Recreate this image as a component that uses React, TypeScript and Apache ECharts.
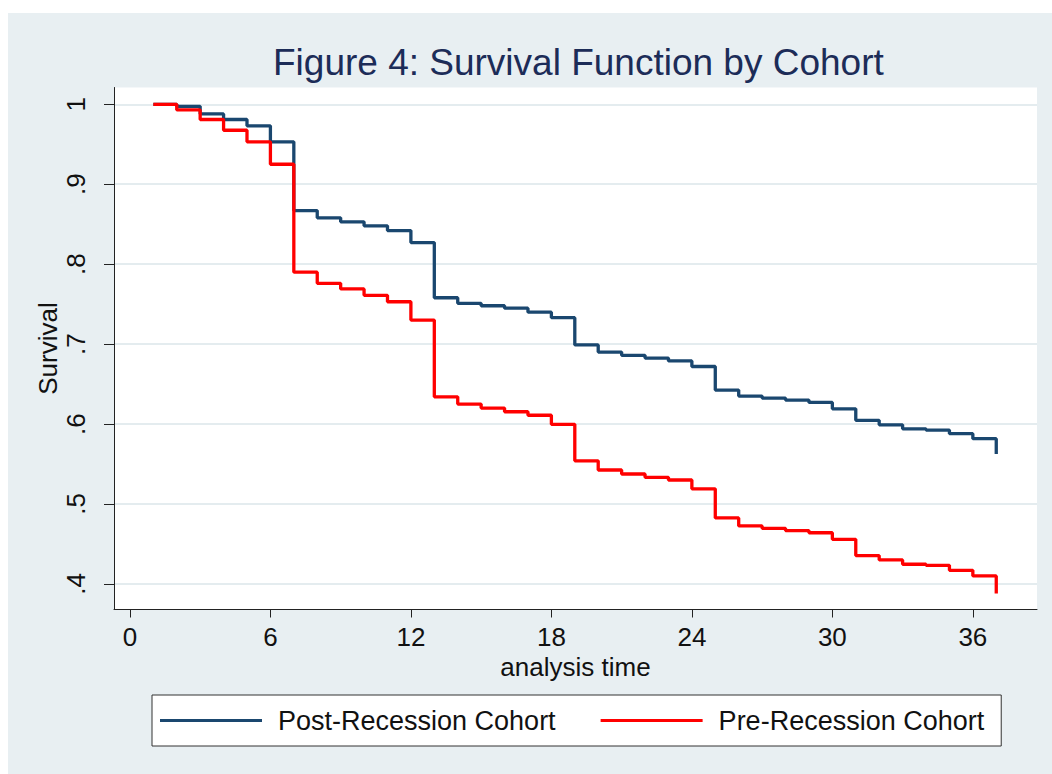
import React, { useEffect, useRef } from "react";
import * as echarts from "echarts";

const FONT = "'Liberation Sans', Arial, Helvetica, sans-serif";

const TITLE = "Figure 4: Survival Function by Cohort";
const X_NAME = "analysis time";
const Y_NAME = "Survival";

const times = [
  1, 2, 3, 4, 5, 6, 7, 8, 9, 10, 11, 12, 13, 14, 15, 16, 17, 18, 19, 20, 21,
  22, 23, 24, 25, 26, 27, 28, 29, 30, 31, 32, 33, 34, 35, 36, 37,
];

const postRecession = [
  1.0, 0.9975, 0.988, 0.981, 0.973, 0.953, 0.867, 0.858, 0.853, 0.848, 0.842,
  0.827, 0.758, 0.751, 0.748, 0.745, 0.74, 0.733, 0.699, 0.69, 0.686, 0.6825,
  0.679, 0.672, 0.6425, 0.635, 0.6325, 0.63, 0.627, 0.619, 0.6046, 0.599,
  0.594, 0.5925, 0.588, 0.5817, 0.5625,
];

const preRecession = [
  1.0, 0.993, 0.981, 0.9675, 0.953, 0.925, 0.79, 0.776, 0.769, 0.761, 0.753,
  0.73, 0.634, 0.625, 0.62, 0.6154, 0.611, 0.5996, 0.554, 0.5425, 0.5375,
  0.5333, 0.53, 0.519, 0.4825, 0.4725, 0.4696, 0.4667, 0.464, 0.4558, 0.4354,
  0.43, 0.4246, 0.4233, 0.417, 0.41, 0.388,
];

const xTicks = [0, 6, 12, 18, 24, 30, 36];
const yTicks = [0.4, 0.5, 0.6, 0.7, 0.8, 0.9, 1];

const seriesNames = ["Post-Recession Cohort", "Pre-Recession Cohort"];
const seriesColors = ["#1a476f", "#ff0000"];

export default function App() {
  const ref = useRef<HTMLDivElement>(null);

  useEffect(() => {
    if (!ref.current) return;
    const chart = echarts.init(ref.current, null, { renderer: "svg" });
    const axisColor = "#222";
    const textColor = "#111";
    chart.setOption({
      animation: false,
      backgroundColor: "transparent",
      title: {
        text: TITLE,
        left: 268,
        top: 39,
        textStyle: {
          fontFamily: FONT,
          fontSize: 37,
          fontWeight: "normal",
          color: "#1c2c58",
        },
      },
      grid: {
        left: 114,
        right: 15,
        top: 87.5,
        bottom: 164.5,
        show: true,
        backgroundColor: "#ffffff",
        borderWidth: 0,
        containLabel: false,
      },
      legend: {
        left: 152,
        top: 695,
        orient: "horizontal",
        itemWidth: 102,
        itemHeight: 3,
        itemGap: 45,
        padding: [12, 17, 12, 8],
        backgroundColor: "#ffffff",
        borderColor: "#333",
        borderWidth: 1,
        borderRadius: 0,
        selectedMode: false,
        textStyle: {
          fontFamily: FONT,
          fontSize: 27,
          color: textColor,
          padding: [0, 0, 0, 11],
        },
        data: seriesNames.map((n) => ({ name: n, icon: "rect" })),
      },
      xAxis: {
        type: "value",
        min: -0.68,
        max: 38.74,
        axisLine: { show: true, onZero: false, lineStyle: { color: axisColor, width: 1 } },
        axisTick: {
          show: true,
          length: 8,
          customValues: xTicks,
          lineStyle: { color: axisColor },
        },
        axisLabel: {
          customValues: xTicks,
          fontFamily: FONT,
          fontSize: 26,
          color: textColor,
          margin: 14,
        },
        splitLine: { show: false },
        name: X_NAME,
        nameLocation: "middle",
        nameGap: 44,
        nameMoveOverlap: false,
        nameTextStyle: { fontFamily: FONT, fontSize: 26, color: textColor },
      },
      yAxis: {
        type: "value",
        min: 0.368,
        max: 1.021,
        axisLine: { show: true, onZero: false, lineStyle: { color: axisColor, width: 1 } },
        axisTick: {
          show: true,
          length: 10,
          customValues: yTicks,
          lineStyle: { color: axisColor },
        },
        axisLabel: {
          customValues: yTicks,
          rotate: 90,
          margin: 25,
          fontFamily: FONT,
          fontSize: 26,
          color: textColor,
          formatter: (v: number) =>
            Math.abs(v - 1) < 1e-9 ? "1" : "." + Math.round(v * 10),
        },
        splitLine: { show: false },
        name: Y_NAME,
        nameLocation: "middle",
        nameGap: 53,
        nameRotate: 90,
        nameMoveOverlap: false,
        nameTextStyle: { fontFamily: FONT, fontSize: 26, color: textColor },
      },
      series: [
        {
          name: "grid",
          type: "line",
          data: [],
          silent: true,
          z: 0,
          markLine: {
            silent: true,
            z: 0,
            symbol: ["none", "none"],
            label: { show: false },
            lineStyle: { color: "#e4ecef", width: 2, type: "solid" },
            data: yTicks.map((v) => ({ yAxis: v })),
          },
        },
        {
          name: seriesNames[0],
          type: "line",
          step: "end",
          symbol: "none",
          z: 3,
          data: times.map((t, i) => [t, postRecession[i]]),
          lineStyle: { color: seriesColors[0], width: 3.3 },
          itemStyle: { color: seriesColors[0] },
        },
        {
          name: seriesNames[1],
          type: "line",
          step: "end",
          symbol: "none",
          z: 4,
          data: times.map((t, i) => [t, preRecession[i]]),
          lineStyle: { color: seriesColors[1], width: 3.3 },
          itemStyle: { color: seriesColors[1] },
        },
      ],
    });
    return () => chart.dispose();
  }, []);

  return (
    <div style={{ position: "absolute", left: 0, top: 0, width: 1052, height: 774, background: "#ffffff" }}>
      <div
        style={{
          position: "absolute",
          left: 8,
          top: 13,
          width: 1044,
          height: 761,
          background: "#e8eff2",
        }}
      />
      <div
        ref={ref}
        style={{ position: "absolute", left: 0, top: 0, width: 1052, height: 774 }}
      />
    </div>
  );
}
